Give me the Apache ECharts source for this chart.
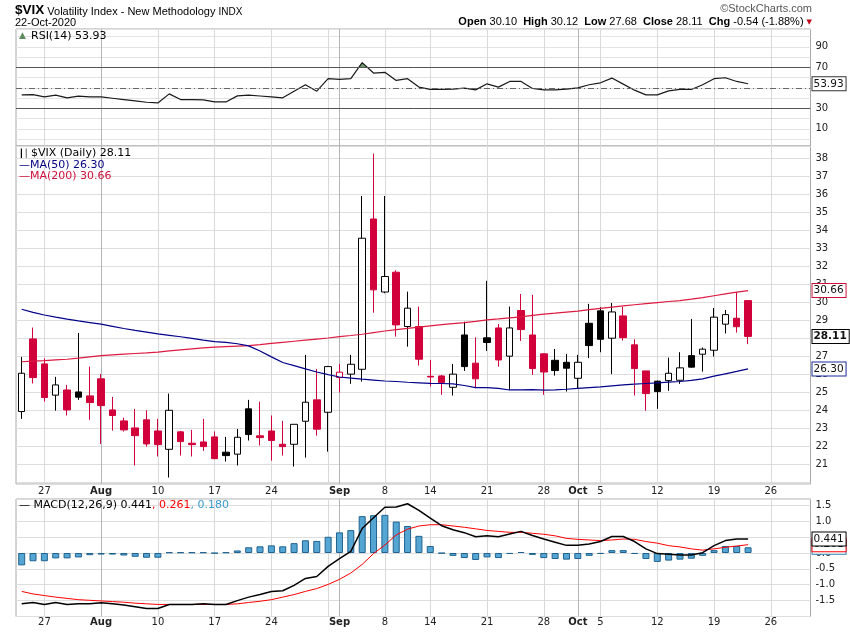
<!DOCTYPE html>
<html><head><meta charset="utf-8">
<script src="https://cdn.jsdelivr.net/npm/echarts@6.0.0/dist/echarts.min.js"></script>
<style>html,body{margin:0;padding:0;background:#fff}#c{width:850px;height:633px}</style>
</head><body><div id="c"></div><script>
// ---- data ----
const dates = [
 '2020-07-23','2020-07-24','2020-07-27','2020-07-28','2020-07-29','2020-07-30','2020-07-31',
 '2020-08-03','2020-08-04','2020-08-05','2020-08-06','2020-08-07','2020-08-10','2020-08-11','2020-08-12','2020-08-13','2020-08-14',
 '2020-08-17','2020-08-18','2020-08-19','2020-08-20','2020-08-21','2020-08-24','2020-08-25','2020-08-26','2020-08-27','2020-08-28',
 '2020-08-31','2020-09-01','2020-09-02','2020-09-03','2020-09-04','2020-09-08','2020-09-09','2020-09-10','2020-09-11',
 '2020-09-14','2020-09-15','2020-09-16','2020-09-17','2020-09-18','2020-09-21','2020-09-22','2020-09-23','2020-09-24','2020-09-25',
 '2020-09-28','2020-09-29','2020-09-30','2020-10-01','2020-10-02','2020-10-05','2020-10-06','2020-10-07','2020-10-08','2020-10-09',
 '2020-10-12','2020-10-13','2020-10-14','2020-10-15','2020-10-16','2020-10-19','2020-10-20','2020-10-21','2020-10-22'];
const futureDates = ['2020-10-23','2020-10-26','2020-10-27','2020-10-28','2020-10-29'];
const prevClose0 = 24.32;
const openP = [23.93,27.97,26.58,24.84,25.13,25.02,24.80,25.75,24.02,23.41,23.02,23.47,22.85,21.83,22.80,22.17,22.24,22.52,21.67,21.56,24.08,22.58,22.85,22.11,22.11,23.39,24.58,23.89,25.82,26.01,26.28,34.64,30.58,31.68,28.66,28.66,25.89,25.91,25.28,28.19,26.62,28.03,28.58,27.01,29.55,28.19,27.14,26.78,26.67,25.78,28.84,29.53,28.01,29.25,27.64,26.19,25.62,25.65,25.67,27.04,27.12,27.34,28.79,29.12,30.10];
const closeP = [26.06,25.82,24.71,25.41,24.02,24.73,24.43,24.26,23.71,22.91,22.59,22.13,22.09,24.00,22.26,22.09,21.98,21.31,21.48,22.50,22.65,22.48,22.32,21.98,23.22,24.45,22.95,26.43,26.12,26.56,33.57,30.70,31.44,28.75,29.68,26.84,25.85,25.54,26.01,26.43,25.75,27.77,26.80,28.58,28.49,26.32,26.13,26.21,26.34,26.67,27.60,27.95,29.47,28.04,26.32,24.93,25.04,26.06,26.36,26.40,27.40,29.18,29.32,28.65,28.11];
const lowP = [23.52,25.49,24.48,23.98,23.71,24.58,23.47,22.13,22.87,22.82,20.93,21.98,21.43,20.26,21.48,21.43,21.74,21.28,21.15,20.93,22.32,22.04,21.20,21.48,20.87,21.37,22.59,21.70,24.99,25.47,25.60,29.43,30.51,28.10,27.54,26.49,25.32,24.86,24.82,26.19,25.23,27.30,26.43,25.12,27.86,25.97,24.86,25.93,25.04,25.21,26.90,27.23,26.01,27.88,24.82,23.98,24.08,25.08,25.47,26.38,26.15,26.99,28.27,28.32,27.68];
const highP = [26.97,28.60,26.89,25.86,25.41,28.30,26.43,26.02,24.74,23.59,24.08,24.00,23.52,24.93,22.85,22.91,23.52,22.82,22.52,22.96,24.58,24.48,23.71,23.41,23.22,27.08,26.30,26.47,26.58,27.08,35.92,38.28,35.92,31.79,30.60,29.77,26.80,25.97,26.58,28.93,28.06,31.20,28.80,29.77,30.47,30.42,27.17,27.41,27.14,27.08,29.92,29.73,29.97,29.75,27.95,26.19,25.65,26.93,27.23,29.08,27.49,29.69,29.58,30.58,30.12];
const ma50 = [29.62,29.45,29.30,29.18,29.07,28.97,28.88,28.79,28.67,28.55,28.44,28.35,28.25,28.17,28.09,28.00,27.90,27.82,27.78,27.70,27.58,27.30,26.97,26.66,26.48,26.30,26.13,25.98,25.85,25.79,25.73,25.68,25.63,25.60,25.56,25.53,25.50,25.49,25.47,25.38,25.26,25.26,25.22,25.13,25.13,25.15,25.12,25.14,25.17,25.22,25.26,25.30,25.36,25.41,25.45,25.49,25.53,25.57,25.60,25.66,25.75,25.90,26.03,26.16,26.30];
const ma200 = [26.70,26.73,26.76,26.80,26.84,26.90,26.97,27.04,27.08,27.12,27.16,27.19,27.23,27.30,27.36,27.42,27.47,27.51,27.54,27.57,27.60,27.65,27.72,27.78,27.84,27.90,27.96,28.02,28.10,28.16,28.23,28.32,28.41,28.49,28.56,28.63,28.70,28.76,28.82,28.88,28.95,29.03,29.08,29.14,29.20,29.28,29.35,29.40,29.46,29.52,29.60,29.67,29.74,29.81,29.87,29.93,29.99,30.05,30.10,30.18,30.27,30.37,30.47,30.57,30.66];
const rsi = [43.1,43.3,41.1,42.8,40.2,41.8,41.1,41.1,39.8,38.5,37.2,35.9,35.2,44.1,38.5,38.5,38.3,36.2,36.2,42.1,42.8,42.0,41.1,40.2,46.6,53.0,46.7,58.9,58.2,58.9,74.6,64.4,65.1,57.2,58.9,50.7,48.4,48.4,48.7,49.7,48.0,53.9,50.7,56.2,56.2,49.3,48.0,48.0,48.7,50.0,53.0,54.9,59.5,53.6,47.7,43.1,43.1,47.0,48.4,48.4,53.0,58.9,59.8,56.2,53.93];
const macd = [-1.60,-1.56,-1.62,-1.56,-1.62,-1.60,-1.60,-1.57,-1.60,-1.64,-1.69,-1.75,-1.75,-1.62,-1.62,-1.62,-1.60,-1.62,-1.62,-1.50,-1.39,-1.31,-1.21,-1.19,-1.02,-0.80,-0.74,-0.42,-0.18,0.05,0.77,1.11,1.44,1.45,1.55,1.34,1.10,0.86,0.73,0.64,0.51,0.54,0.51,0.60,0.68,0.55,0.44,0.34,0.24,0.24,0.28,0.36,0.52,0.52,0.36,0.13,-0.02,-0.04,-0.06,-0.06,0.01,0.23,0.39,0.44,0.441];
const signal = [-1.21,-1.29,-1.34,-1.39,-1.43,-1.47,-1.49,-1.51,-1.53,-1.55,-1.58,-1.60,-1.62,-1.62,-1.62,-1.62,-1.62,-1.62,-1.62,-1.60,-1.56,-1.52,-1.47,-1.39,-1.31,-1.21,-1.12,-0.99,-0.83,-0.63,-0.36,-0.02,0.25,0.57,0.75,0.85,0.89,0.89,0.85,0.81,0.76,0.71,0.68,0.65,0.65,0.62,0.59,0.54,0.46,0.43,0.41,0.39,0.41,0.44,0.43,0.36,0.31,0.23,0.19,0.13,0.09,0.13,0.18,0.22,0.261];
const hist = [-0.39,-0.26,-0.26,-0.17,-0.17,-0.14,-0.07,-0.05,-0.05,-0.08,-0.12,-0.15,-0.15,0.02,0.02,0.02,0.02,-0.01,0.02,0.08,0.18,0.21,0.24,0.21,0.31,0.40,0.38,0.51,0.65,0.72,1.16,1.19,1.20,0.99,0.85,0.54,0.22,-0.01,-0.09,-0.16,-0.22,-0.14,-0.16,-0.03,0.03,-0.06,-0.16,-0.19,-0.21,-0.19,-0.09,-0.03,0.09,0.09,-0.03,-0.19,-0.28,-0.24,-0.21,-0.18,-0.09,0.09,0.22,0.22,0.180];
const labelDates = ['2020-07-27','2020-08-03','2020-08-10','2020-08-17','2020-08-24','2020-09-01','2020-09-08','2020-09-14','2020-09-21','2020-09-28','2020-10-01','2020-10-05','2020-10-12','2020-10-19','2020-10-26'];
const labelTexts = ['27','Aug','10','17','24','Sep','8','14','21','28','Oct','5','12','19','26'];
const weekLineDates = ['2020-07-27','2020-08-10','2020-08-17','2020-08-24','2020-08-31','2020-09-08','2020-09-14','2020-09-21','2020-09-28','2020-10-05','2020-10-12','2020-10-19','2020-10-26'];
const monthLineDates = ['2020-08-03','2020-09-01','2020-10-01'];
const rsiLabels = [10,30,50,70,90];
const priceLabels = [21,22,23,24,25,26,27,28,29,30,31,32,33,34,35,36,37,38];
const macdLabels = [-1.5,-1,-0.5,0,0.5,1,1.5];

// ---- build ----
const FONT = 'DejaVu Sans', HFONT = 'Liberation Sans';
const RED = '#d1003b', BLK = '#000000';
const allDates = dates.concat(futureDates);
const last = a => a[a.length - 1];
const candles = dates.map((d, i) => {
  const prev = i === 0 ? prevClose0 : closeP[i - 1];
  const col = closeP[i] >= prev ? BLK : RED;
  const hollow = closeP[i] > openP[i];
  const fill = hollow ? '#ffffff' : col;
  return { value: [openP[i], closeP[i], lowP[i], highP[i]],
    itemStyle: { color: fill, color0: fill, borderColor: col, borderColor0: col, borderColorDoji: col, borderWidth: 1 } };
});
const lastClose = last(closeP), prevClose = closeP[closeP.length - 2];
const chg = lastClose - prevClose;

function xMain(g, labels) {
  return { type: 'category', gridIndex: g, data: allDates, boundaryGap: true,
    axisLine: { show: false }, axisTick: { show: false },
    axisLabel: labels ? { show: true, interval: (i, v) => labelDates.indexOf(v) >= 0, margin: labels,
      fontFamily: FONT, fontSize: 10, color: '#222',
      formatter: v => { const k = labelDates.indexOf(v); if (k < 0) return ''; const t = labelTexts[k]; return /[A-Za-z]/.test(t) ? '{m|' + t + '}' : t; },
      rich: { m: { fontFamily: FONT, fontSize: 10, fontWeight: 'bold', color: '#222' } } } : { show: false },
    splitLine: { show: true, interval: (i, v) => weekLineDates.indexOf(v) >= 0, alignWithLabel: true, lineStyle: { color: '#d9d9d9', width: 1 } } };
}
function xMonth(g) {
  return { type: 'category', gridIndex: g, data: allDates, boundaryGap: true,
    axisLine: { show: false }, axisTick: { show: false }, axisLabel: { show: false },
    splitLine: { show: true, interval: (i, v) => monthLineDates.indexOf(v) >= 0, alignWithLabel: true, lineStyle: { color: '#b5b5b5', width: 1 } } };
}
function tagItem(val, dec, border, bold) {
  return { yAxis: val, lineStyle: { color: 'rgba(0,0,0,0)', width: 0, opacity: 1 },
    label: { show: true, position: 'end', distance: 2, formatter: val.toFixed(dec), backgroundColor: '#fff', opacity: 1,
      borderColor: border, borderWidth: 1, padding: [1, 2, 0, 1], color: '#111', fontFamily: FONT, fontSize: 10.5,
      fontWeight: bold ? 'bold' : 'normal', lineHeight: 12 } };
}
function ml(items) { return { silent: true, symbol: 'none', animation: false, data: items }; }
const yLab = (fn) => ({ margin: 5, fontFamily: FONT, fontSize: 10, color: '#222', formatter: fn });
const TS = (o) => Object.assign({ fontFamily: FONT, fontSize: 11, fontWeight: 'normal', color: '#000', lineHeight: 12 }, o || {});

const gridBase = { left: 16, right: 39.5, show: true, borderColor: '#a8a8a8', borderWidth: 1, backgroundColor: 'transparent' };

const option = {
  animation: false,
  backgroundColor: '#fff',
  title: [
    { left: 15, top: 2, padding: 0, text: '{a|$VIX} {b|Volatility Index - New Methodology} {c|INDX}',
      textStyle: TS({ fontFamily: HFONT, lineHeight: 15, rich: {
        a: { fontFamily: HFONT, fontWeight: 'bold', fontSize: 13.5, color: '#000', lineHeight: 15, verticalAlign: 'bottom' },
        b: { fontFamily: HFONT, fontWeight: 'normal', fontSize: 11, color: '#000', lineHeight: 13, verticalAlign: 'bottom' },
        c: { fontFamily: HFONT, fontWeight: 'normal', fontSize: 10, color: '#000', lineHeight: 12.5, verticalAlign: 'bottom' } } }) },
    { left: 15, top: 16.5, padding: 0, text: '22-Oct-2020', textStyle: TS({ fontFamily: HFONT }) },
    { right: 38, top: 3, padding: 0, text: '\u00a9StockCharts.com', textStyle: TS({ fontFamily: HFONT, color: '#555' }) },
    { right: 38, top: 16, padding: 0,
      text: '{l|Open} ' + last(openP).toFixed(2) + '  {l|High} ' + last(highP).toFixed(2) + '  {l|Low} ' + last(lowP).toFixed(2) +
            '  {l|Close} ' + lastClose.toFixed(2) + '  {l|Chg} ' + chg.toFixed(2) + ' (' + (chg / prevClose * 100).toFixed(2) + '%) {t|\u25bc}',
      textStyle: TS({ fontFamily: HFONT, rich: {
        l: { fontFamily: HFONT, fontSize: 11, fontWeight: 'bold', color: '#000' },
        t: { fontFamily: FONT, fontSize: 7, color: '#c00018' } } }) },
    { left: 19, top: 30, padding: 0, text: '{i|\u25b2}', textStyle: TS({ rich: { i: { fontFamily: FONT, fontSize: 9, color: '#5e8c5e' } } }) },
    { left: 31, top: 29.7, padding: 0, text: 'RSI(14) ' + last(rsi).toFixed(2), textStyle: TS() },
    { left: 19, top: 148, padding: 0, text: '{i|\u2503\u2502}', textStyle: TS({ rich: { i: { fontFamily: FONT, fontSize: 8, color: '#000', letterSpacing: 0 } } }) },
    { left: 31, top: 147.3, padding: 0, text: '$VIX (Daily) ' + lastClose.toFixed(2), textStyle: TS() },
    { left: 19, top: 158.7, padding: 0, text: '\u2014MA(50) ' + last(ma50).toFixed(2), textStyle: TS({ color: '#000080' }) },
    { left: 19, top: 170, padding: 0, text: '\u2014MA(200) ' + last(ma200).toFixed(2), textStyle: TS({ color: '#d0103a' }) },
    { left: 19, top: 499, padding: 0,
      text: '\u2014 MACD(12,26,9) ' + last(macd).toFixed(3) + '{r|, ' + last(signal).toFixed(3) + '}{b|, ' + last(hist).toFixed(3) + '}',
      textStyle: TS({ rich: {
        r: { fontFamily: FONT, fontSize: 11, fontWeight: 'normal', color: '#ff0000', lineHeight: 12 },
        b: { fontFamily: FONT, fontSize: 11, fontWeight: 'normal', color: '#3a9ad0', lineHeight: 12 } } }) }
  ],
  grid: [
    Object.assign({}, gridBase, { top: 29, height: 117 }),
    Object.assign({}, gridBase, { top: 146, height: 338 }),
    Object.assign({}, gridBase, { top: 499, height: 117.5 })
  ],
  xAxis: [ xMain(0, 0), xMonth(0), xMain(1, 2), xMonth(1), xMain(2, 1), xMonth(2) ],
  yAxis: [
    { type: 'value', gridIndex: 0, position: 'right', min: -6.8, max: 107.4, splitNumber: 11,
      axisLine: { show: false }, axisTick: { show: false },
      axisLabel: yLab(v => rsiLabels.indexOf(v) >= 0 ? String(v) : ''),
      splitLine: { show: true, lineStyle: { color: '#e3e3e3' } } },
    { type: 'value', gridIndex: 1, position: 'right', min: 19.9, max: 38.7, splitNumber: 19,
      axisLine: { show: false }, axisTick: { show: false },
      axisLabel: yLab(v => priceLabels.indexOf(v) >= 0 ? String(v) : ''),
      splitLine: { show: true, lineStyle: { color: '#dedede' } } },
    { type: 'value', gridIndex: 2, position: 'right', min: -2, max: 1.7, interval: 0.5,
      axisLine: { show: false }, axisTick: { show: false },
      axisLabel: yLab(v => macdLabels.indexOf(v) >= 0 ? v.toFixed(1) : ''),
      splitLine: { show: true, lineStyle: { color: '#dedede' } } }
  ],
  visualMap: [{ type: 'piecewise', show: false, seriesIndex: 0,
    pieces: [{ gte: 70, lte: 200, color: '#6e9a6e' }, { gte: -100, lt: 70, color: 'rgba(255,255,255,0)' }],
    outOfRange: { color: 'rgba(255,255,255,0)' } }],
  series: [
    { name: 'rsiFill', type: 'line', xAxisIndex: 0, yAxisIndex: 0, data: rsi, symbol: 'none', z: 2,
      lineStyle: { width: 0 }, areaStyle: { opacity: 1 } },
    { name: 'RSI', type: 'line', xAxisIndex: 0, yAxisIndex: 0, data: rsi, symbol: 'none', z: 3,
      lineStyle: { color: '#1a1a1a', width: 1.2 }, itemStyle: { color: '#1a1a1a' },
      markLine: ml([
        { yAxis: 70, lineStyle: { color: '#555', width: 1, type: 'solid' }, label: { show: false } },
        { yAxis: 30, lineStyle: { color: '#555', width: 1, type: 'solid' }, label: { show: false } },
        { yAxis: 50, lineStyle: { color: '#666', width: 1, type: [6, 3, 1, 3] }, label: { show: false } },
        tagItem(last(rsi), 2, '#333', false)
      ]) },
    { name: 'MA200', type: 'line', xAxisIndex: 2, yAxisIndex: 1, data: ma200, symbol: 'none', z: 3,
      lineStyle: { color: '#dd1a40', width: 1.2 }, itemStyle: { color: '#dd1a40' },
      markLine: ml([tagItem(last(ma200), 2, '#d0103a', false)]) },
    { name: 'MA50', type: 'line', xAxisIndex: 2, yAxisIndex: 1, data: ma50, symbol: 'none', z: 3,
      lineStyle: { color: '#00008b', width: 1.2 }, itemStyle: { color: '#00008b' },
      markLine: ml([tagItem(last(ma50), 2, '#1a2a9a', false)]) },
    { name: '$VIX', type: 'candlestick', xAxisIndex: 2, yAxisIndex: 1, data: candles, barWidth: 7, z: 2,
      markLine: ml([tagItem(lastClose, 2, '#000', true)]) },
    { name: 'hist', type: 'bar', xAxisIndex: 4, yAxisIndex: 2, data: hist, barWidth: 7, z: 2,
      itemStyle: { color: '#56a6d3', borderColor: '#1f628f', borderWidth: 1 },
      markLine: ml([tagItem(last(hist), 3, '#2a7fb5', false)]) },
    { name: 'signal', type: 'line', xAxisIndex: 4, yAxisIndex: 2, data: signal, symbol: 'none', z: 3,
      lineStyle: { color: '#ff0000', width: 1 }, itemStyle: { color: '#ff0000' },
      markLine: ml([tagItem(last(signal), 3, '#ff0000', false)]) },
    { name: 'MACD', type: 'line', xAxisIndex: 4, yAxisIndex: 2, data: macd, symbol: 'none', z: 4,
      lineStyle: { color: '#000', width: 1.5 }, itemStyle: { color: '#000' },
      markLine: ml([tagItem(last(macd), 3, '#000', false)]) }
  ]
};
const chart = echarts.init(document.getElementById('c'));
chart.setOption(option);
</script></body></html>
